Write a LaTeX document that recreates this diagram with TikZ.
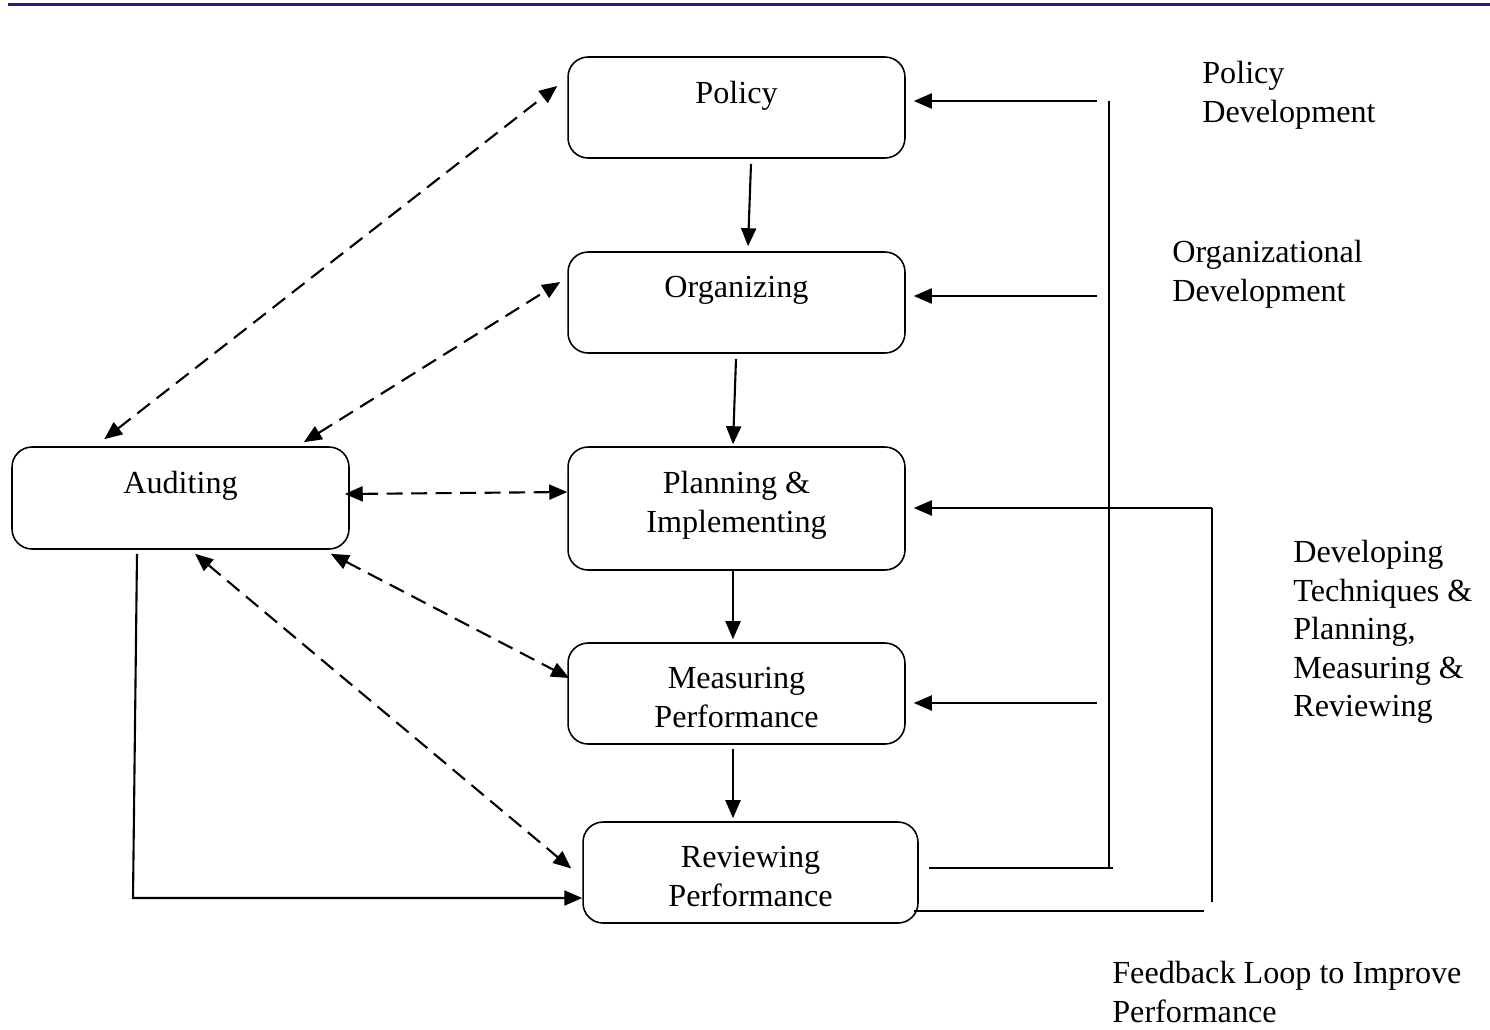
\documentclass[tikz,border=0pt]{standalone}
\usepackage{fontspec}
\setmainfont{Liberation Serif}
\usepackage{xcolor}
\usetikzlibrary{
    positioning, % relative placement of the box texts
    arrows.meta  % triangle tips
}
\definecolor{barblue}{RGB}{31,31,138}
\newcommand{\diagfont}{\fontsize{18.3}{21.9}\selectfont}
\tikzset{
    >={Triangle[length=0.36cm,width=0.3cm]},
    stage/.style={draw, line width=0.9pt, rounded corners=0.4cm,
        minimum width=6.74cm, minimum height=2.02cm, inner sep=0pt},
    stagetext/.style={align=center, inner sep=0pt, font=\diagfont},
    sidetext/.style={align=left, inner sep=0pt, anchor=north west, font=\diagfont},
    flow/.style={->, line width=1.2pt},
    audit/.style={<->, line width=1.2pt, dash pattern=on 0.32cm off 0.17cm},
    fb/.style={line width=1.2pt}
}

\begin{document}
\begin{tikzpicture}[x=0.02cm, y=-0.02cm]
    % page frame (pixel grid, y downwards)
    \useasboundingbox (0,0) rectangle (1490,1029);
    \draw[barblue, line width=0.07cm] (8,4.5) -- (1490,4.5);

    % ===================== MAIN CHAIN =====================
    \node[stage] (pol) at (736.5,107.5) {};
    \node[stage] (org) at (736.5,302.5) {};
    \node[stage, minimum height=2.46cm] (plan) at (736.5,508.5) {};
    \node[stage] (meas) at (736.5,693.5) {};
    \node[stage, minimum width=6.7cm] (rev) at (750.5,872.5) {};
    \node[stage, minimum height=2.04cm] (aud) at (180.5,498) {};

    % texts sit near the top of each box
    \node[stagetext, below=0.5cm of pol.north] (pol-t) {Policy};
    \node[stagetext, below=0.5cm of org.north] (org-t) {Organizing};
    \node[stagetext, below=0.5cm of plan.north] (plan-t) {Planning \&\\Implementing};
    \node[stagetext, below=0.5cm of meas.north] (meas-t) {Measuring\\Performance};
    \node[stagetext, below=0.5cm of rev.north] (rev-t) {Reviewing\\Performance};
    \node[stagetext, below=0.5cm of aud.north] (aud-t) {Auditing};

    % downward flow
    \draw[flow] ([shift={(14.5,5)}]pol.south) -- ([shift={(11.5,-5)}]org.north);
    \draw[flow] ([shift={(-0.5,5)}]org.south) -- ([shift={(-3.5,-2)}]plan.north);
    \draw[flow] ([shift={(-3.5,0)}]plan.south) -- ([shift={(-3.5,-3)}]meas.north);
    \draw[flow] ([shift={(-3.5,4)}]meas.south) -- ([shift={(-17.5,-3)}]rev.north);

    % ===================== AUDITING LINKS =====================
    \draw[audit] ([shift={(93,-7)}]aud.north west) -- ([shift={(-10,-21.5)}]pol.west);
    \draw[audit] ([shift={(-46,-4)}]aud.north east) -- ([shift={(-7,-20.5)}]org.west);
    \draw[audit] ([shift={(-5,-4)}]aud.east) -- ([shift={(0,-16.5)}]plan.west);
    \draw[audit] ([shift={(-19,4)}]aud.south east) -- ([shift={(2,-15.5)}]meas.west);
    \draw[audit] ([shift={(14.5,4)}]aud.south) -- ([shift={(-11,-4)}]rev.west);

    \coordinate (audCorner) at (133,898);
    \draw[flow] ([shift={(-43.5,4)}]aud.south) -- (audCorner) -- (audCorner -| rev.west);

    % ===================== RIGHT BUS =====================
    \coordinate (busTop) at (1109,101);
    \coordinate (busBot) at (1109,868);
    \coordinate (polIn) at (1097,101);
    \coordinate (orgIn) at (1097,296);
    \coordinate (measIn) at (1097,703);
    \coordinate (revOut) at (1113,868);
    \draw[fb] (busTop) -- (busBot);
    \draw[flow, shorten >=0.16cm] (polIn) -- (polIn -| pol.east);
    \draw[flow, shorten >=0.16cm] (orgIn) -- (orgIn -| org.east);
    \draw[flow, shorten >=0.16cm] (measIn) -- (measIn -| meas.east);
    \draw[fb, shorten <=0.2cm] (revOut -| rev.east) -- (revOut);

    % feedback loop
    \coordinate (loopTop) at (1212,508);
    \coordinate (loopBot) at (1212,902);
    \coordinate (loopIn) at (1204,911);
    \draw[fb] (loopTop) -- (loopBot);
    \draw[flow, shorten >=0.16cm] (loopTop) -- (loopTop -| plan.east);
    \draw[fb, shorten <=-0.1cm] (loopIn -| rev.east) -- (loopIn);

    % side notes
    \node[sidetext] (polDev) at (1202,61) {Policy\\Development};
    \node[sidetext] (orgDev) at (1172,240) {Organizational\\Development};
    \node[sidetext] (techDev) at (1293,540) {Developing\\Techniques \&\\Planning,\\Measuring \&\\Reviewing};
    \node[sidetext] (loopTxt) at (1112,961) {Feedback Loop to Improve\\Performance};
\end{tikzpicture}
\end{document}
